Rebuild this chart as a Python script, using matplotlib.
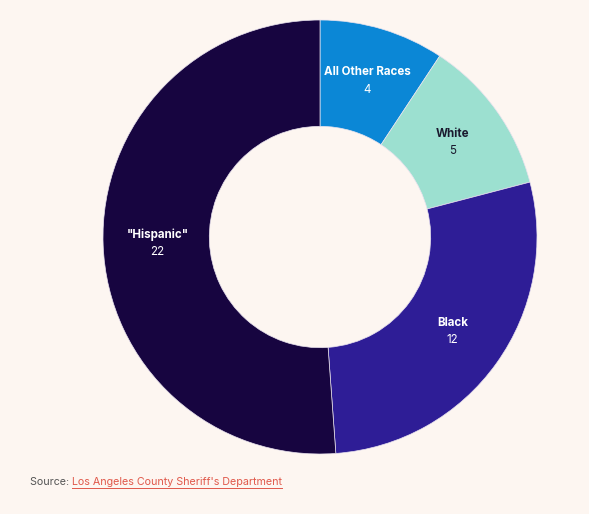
import matplotlib
matplotlib.use("Agg")
import matplotlib.pyplot as plt
import numpy as np

categories = ["All Other Races", "White", "Black", "\"Hispanic\""]
values = [4, 5, 12, 22]
colors = ["#0b87d6", "#9ce0d0", "#2e1d96", "#170540"]
text_colors = ["white", "#1a1a2e", "white", "white"]

bg = "#fdf6f1"
plt.rcParams['font.family'] = ['Inter', 'DejaVu Sans']

W, H = 589, 514
fig = plt.figure(figsize=(W/100, H/100), dpi=100, facecolor=bg)
cx, cy, R = 320, 237, 217
ax = fig.add_axes([(cx-R)/W, (H-cy-R)/H, 2*R/W, 2*R/H])
ax.set_facecolor(bg)

wedges, _ = ax.pie(values, colors=colors, startangle=90, counterclock=False,
                   radius=1, wedgeprops=dict(width=0.49, edgecolor="#e8e2ee", linewidth=0.5))
ax.set_xlim(-1, 1)
ax.set_ylim(-1, 1)
ax.set_aspect('equal')
ax.axis('off')

for w, name, val, tc in zip(wedges, categories, values, text_colors):
    ang = np.deg2rad((w.theta1 + w.theta2) / 2)
    x, y = 0.75*np.cos(ang), 0.75*np.sin(ang)
    ax.text(x, y + 0.04, name, ha='center', va='center', color=tc,
            fontsize=8.3, fontweight='bold')
    ax.text(x, y - 0.04, str(val), ha='center', va='center', color=tc,
            fontsize=8.3)

t1 = fig.text(30/W, 1 - 482/H, "Source: ", ha='left', va='center', fontsize=7.7, color="#555555")
fig.canvas.draw()
bb = t1.get_window_extent()
t2 = fig.text(bb.x1/W, 1 - 482/H, "Los Angeles County Sheriff's Department", ha='left', va='center',
              fontsize=7.7, color="#e0584a")
fig.canvas.draw()
bb2 = t2.get_window_extent()
fig.add_artist(plt.Line2D([bb2.x0/W, bb2.x1/W], [(bb2.y0-1)/H, (bb2.y0-1)/H],
                          color="#e0584a", linewidth=0.7))

fig.savefig("out.png", dpi=100, facecolor=bg)
